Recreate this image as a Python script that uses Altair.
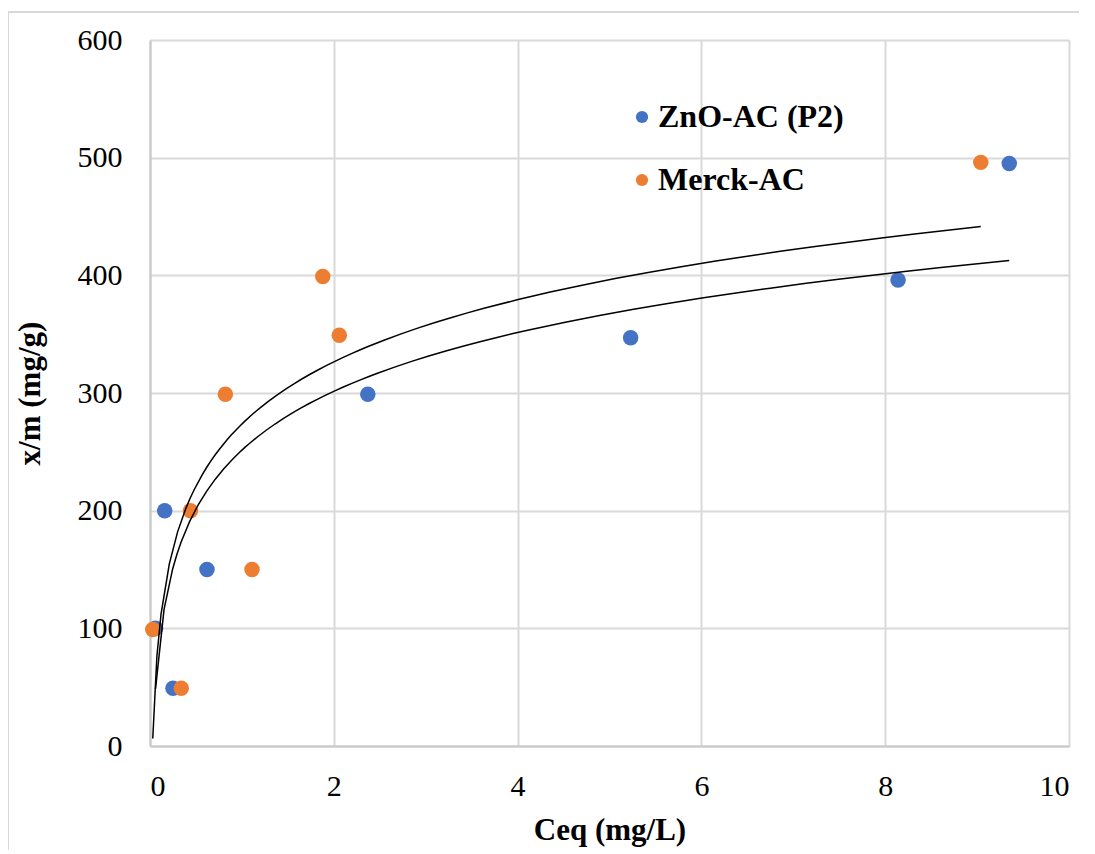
import altair as alt
import pandas as pd

# Data
zno_x = [0.06, 0.16, 0.25, 0.62, 2.37, 5.23, 8.14, 9.35]
zno_y = [100, 200, 49, 150, 299, 347, 396, 495]
merck_x = [0.03, 0.34, 0.44, 0.82, 1.11, 1.88, 2.06, 9.04]
merck_y = [99, 49, 200, 299, 150, 399, 349, 496]
series_names = ["ZnO-AC (P2)", "Merck-AC"]
series_colors = ["#4472C4", "#ED7D31"]
x_ticks = [0, 2, 4, 6, 8, 10]
y_ticks = [0, 100, 200, 300, 400, 500, 600]

rows = []
for x, y in zip(zno_x, zno_y):
    rows.append({"x": x, "y": y, "series": series_names[0]})
for x, y in zip(merck_x, merck_y):
    rows.append({"x": x, "y": y, "series": series_names[1]})
df = pd.DataFrame(rows)

FONT = "Liberation Serif"

xscale = alt.Scale(domain=[0, 10], nice=False, zero=True)
yscale = alt.Scale(domain=[0, 600], nice=False, zero=True)

points = alt.Chart(df).mark_circle(size=240, opacity=1).encode(
    x=alt.X("x:Q", scale=xscale,
            axis=alt.Axis(values=x_ticks, format="d", title="Ceq (mg/L)",
                          titleY=84, titleBaseline="middle",
                          labelFont=FONT, labelFontSize=30, labelColor="black",
                          titleFont=FONT)),
    y=alt.Y("y:Q", scale=yscale,
            axis=alt.Axis(values=y_ticks, format="d", title="x/m (mg/g)",
                          titleX=-120, titleY=353, titleBaseline="middle",
                          titleAngle=-90, titleAlign="center",
                          labelFont=FONT, labelFontSize=30, labelColor="black",
                          titleFont=FONT)),
    color=alt.Color("series:N",
                    scale=alt.Scale(domain=series_names, range=series_colors),
                    sort=series_names,
                    legend=alt.Legend(title=None, orient="none", legendX=476, legendY=61,
                                      labelFont=FONT, labelFontSize=32, labelFontWeight="bold",
                                      labelColor="black", symbolType="circle", symbolSize=150,
                                      symbolStrokeWidth=0, rowPadding=31, labelOffset=0,
                                      labelLimit=400)),
)

curves = alt.Chart(df).transform_regression(
    "x", "y", method="log", groupby=["series"]
).mark_line(color="black", strokeWidth=1.5).encode(
    x=alt.X("x:Q", scale=xscale),
    y=alt.Y("y:Q", scale=yscale),
    detail="series:N",
)

border_data = alt.Data(values=[{"a": 1}])
border_left = alt.Chart(border_data).mark_rule(color="#d9d9d9", strokeWidth=2).encode(
    x=alt.value(-142), y=alt.value(-28), y2=alt.value(830)
)
border_top = alt.Chart(border_data).mark_rule(color="#d9d9d9", strokeWidth=2).encode(
    x=alt.value(-142), x2=alt.value(960), y=alt.value(-28)
)

chart = alt.layer(border_left, border_top, points, curves).properties(
    width=919, height=706,
    autosize=alt.AutoSizeParams(type="none"),
    padding={"left": 142, "top": 32, "right": 10, "bottom": 104},
).configure_view(stroke=None).configure_axis(
    grid=True, gridColor="#d9d9d9", gridWidth=2,
    domainColor="#c8c8c8", domainWidth=2,
    ticks=False,
    labelFont=FONT, labelFontSize=30, labelColor="black",
    titleFont=FONT, titleFontSize=31, titleFontWeight="bold", titleColor="black",
).configure_axisX(labelPadding=25, labelFont=FONT).configure_axisY(labelPadding=28, labelFont=FONT)

chart.save("out.html", embed_options={"renderer": "svg", "actions": False})
